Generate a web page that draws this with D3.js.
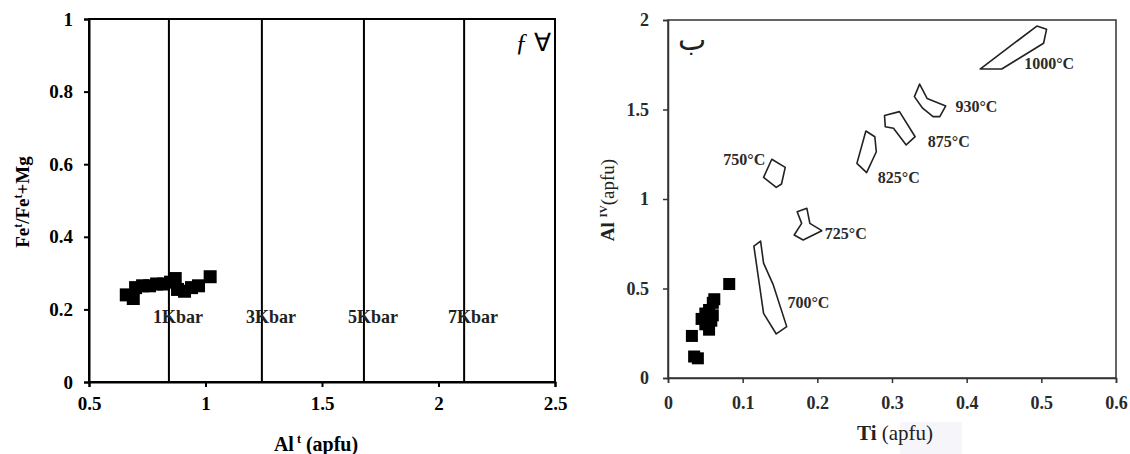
<!DOCTYPE html>
<html><head><meta charset="utf-8">
<script src="https://cdn.jsdelivr.net/npm/d3@7"></script>
<style>body{margin:0;background:#fff}svg{display:block}</style>
</head><body>
<svg id="c" width="1130" height="454"></svg>
<script>
// ---- Left chart data ----
const leftXTicks = [0.5, 1, 1.5, 2, 2.5];
const leftYTicks = [0, 0.2, 0.4, 0.6, 0.8, 1];
const pressureX = [0.843, 1.242, 1.68, 2.11];
const pressureLabels = ["1Kbar", "3Kbar", "5Kbar", "7Kbar"];
const leftAlt = [0.66, 0.69, 0.70, 0.73, 0.76, 0.79, 0.82, 0.85, 0.87, 0.88, 0.91, 0.94, 0.97, 1.02];
const leftFe  = [0.24, 0.23, 0.26, 0.265, 0.265, 0.27, 0.27, 0.275, 0.285, 0.255, 0.25, 0.26, 0.265, 0.29];

// ---- Right chart data ----
const rightXTicks = [0, 0.1, 0.2, 0.3, 0.4, 0.5, 0.6];
const rightYTicks = [0, 0.5, 1, 1.5, 2];
const rightTi  = [0.032, 0.035, 0.040, 0.045, 0.050, 0.050, 0.055, 0.055, 0.058, 0.060, 0.060, 0.062, 0.082];
const rightAl4 = [0.235, 0.12, 0.11, 0.33, 0.36, 0.30, 0.27, 0.38, 0.32, 0.35, 0.42, 0.44, 0.525];
const tempLabels = ["700°C", "725°C", "750°C", "825°C", "875°C", "930°C", "1000°C"];
const tempLabelPos = [[0.16, 0.42], [0.21, 0.81], [0.074, 1.22], [0.281, 1.12], [0.348, 1.32], [0.385, 1.52], [0.477, 1.755]];
const poly700  = [[0.115,0.737],[0.124,0.765],[0.128,0.642],[0.141,0.52],[0.159,0.287],[0.145,0.246],[0.128,0.361]];
const poly725  = [[0.173,0.929],[0.186,0.948],[0.190,0.864],[0.206,0.823],[0.181,0.771],[0.169,0.799],[0.179,0.864]];
const poly750  = [[0.139,1.222],[0.157,1.177],[0.152,1.084],[0.145,1.065],[0.128,1.121]];
const poly825  = [[0.265,1.380],[0.277,1.348],[0.279,1.264],[0.266,1.147],[0.253,1.199]];
const poly875  = [[0.290,1.466],[0.310,1.488],[0.331,1.348],[0.319,1.302],[0.302,1.395],[0.291,1.404]];
const poly930  = [[0.337,1.642],[0.347,1.562],[0.372,1.520],[0.364,1.460],[0.355,1.460],[0.341,1.507],[0.330,1.572]];
const poly1000 = [[0.418,1.726],[0.494,1.966],[0.507,1.948],[0.503,1.870],[0.447,1.726]];
const polygons = [poly700, poly725, poly750, poly825, poly875, poly930, poly1000];

const svg = d3.select("#c");
const serif = "'Liberation Serif','Times New Roman',serif";

// ================= LEFT CHART =================
(function(){
  const L = 89, R = 555, T = 19, B = 382;
  const x = d3.scaleLinear().domain([0.5, 2.5]).range([L, R]);
  const y = d3.scaleLinear().domain([0, 1]).range([B, T]);
  const g = svg.append("g");

  g.selectAll("line.p").data(pressureX).join("line")
    .attr("x1", d => x(d)).attr("x2", d => x(d)).attr("y1", y(0)).attr("y2", y(1))
    .attr("stroke", "#000").attr("stroke-width", 2);

  g.append("rect").attr("x", L).attr("y", T).attr("width", R - L).attr("height", B - T)
    .attr("fill", "none").attr("stroke", "#000").attr("stroke-width", 2);

  const xa = g.append("g").attr("transform", `translate(0,${B})`)
    .call(d3.axisBottom(x).tickValues(leftXTicks).tickSize(5).tickPadding(5).tickFormat(d3.format("")));
  const ya = g.append("g").attr("transform", `translate(${L},0)`)
    .call(d3.axisLeft(y).tickValues(leftYTicks).tickSize(5).tickPadding(11).tickFormat(d3.format("")));
  [xa, ya].forEach(a => {
    a.select(".domain").attr("stroke", "#000").attr("stroke-width", 2);
    a.selectAll(".tick line").attr("stroke", "#000").attr("stroke-width", 2);
    a.selectAll(".tick text").attr("font-family", serif).attr("font-size", 19)
      .attr("font-weight", "bold").attr("fill", "#000");
  });
  xa.selectAll(".tick text").attr("dy", "0.95em");

  g.selectAll("text.pl").data(pressureLabels).join("text")
    .attr("x", (d, i) => x(pressureX[i]) + 9).attr("y", y(0.18))
    .attr("dy", "0.35em").attr("text-anchor", "middle")
    .attr("font-family", serif).attr("font-size", 18).attr("font-weight", "bold")
    .attr("fill", "#222").text(d => d);

  const s = 13;
  g.selectAll("rect.pt").data(leftAlt).join("rect")
    .attr("x", (d, i) => x(d) - s / 2).attr("y", (d, i) => y(leftFe[i]) - s / 2)
    .attr("width", s).attr("height", s).attr("fill", "#000");

  const cl = g.append("text").attr("x", 551).attr("y", 51).attr("text-anchor", "end")
    .attr("font-family", serif).attr("font-size", 25).attr("fill", "#000");
  cl.append("tspan").attr("font-style", "italic").text("ƒ ");
  cl.append("tspan").text("∀");

  const xt = g.append("text").attr("x", 316).attr("y", 451).attr("text-anchor", "middle")
    .attr("font-family", serif).attr("font-size", 20).attr("font-weight", "bold").attr("fill", "#000");
  xt.append("tspan").text("Al");
  xt.append("tspan").attr("font-size", 12).attr("dy", -8).text(" t");
  xt.append("tspan").attr("dy", 8).text(" (apfu)");

  const yt = g.append("text").attr("transform", "translate(29,202) rotate(-90)").attr("text-anchor", "middle")
    .attr("font-family", serif).attr("font-size", 19).attr("font-weight", "bold").attr("fill", "#000");
  yt.append("tspan").text("Fe");
  yt.append("tspan").attr("font-size", 12).attr("dy", -7).text("t");
  yt.append("tspan").attr("dy", 7).text("/Fe");
  yt.append("tspan").attr("font-size", 12).attr("dy", -7).text("t");
  yt.append("tspan").attr("dy", 7).text("+Mg");
})();

// ================= RIGHT CHART =================
(function(){
  const L = 668, R = 1116, T = 20, B = 378;
  const x = d3.scaleLinear().domain([0, 0.6]).range([L, R]);
  const y = d3.scaleLinear().domain([0, 2]).range([B, T]);
  const g = svg.append("g");
  const ink = "#333";

  g.append("rect").attr("x", 900).attr("y", 422).attr("width", 62).attr("height", 32).attr("fill", "#f6f6fa");

  g.append("rect").attr("x", L).attr("y", T).attr("width", R - L).attr("height", B - T)
    .attr("fill", "none").attr("stroke", ink).attr("stroke-width", 1.5);

  const xa = g.append("g").attr("transform", `translate(0,${B})`)
    .call(d3.axisBottom(x).tickValues(rightXTicks).tickSize(5).tickPadding(8).tickFormat(d3.format("")));
  const ya = g.append("g").attr("transform", `translate(${L},0)`)
    .call(d3.axisLeft(y).tickValues(rightYTicks).tickSize(5).tickPadding(14).tickFormat(d3.format("")));
  [xa, ya].forEach(a => {
    a.select(".domain").attr("stroke", ink).attr("stroke-width", 1.5);
    a.selectAll(".tick line").attr("stroke", ink).attr("stroke-width", 1.5);
    a.selectAll(".tick text").attr("font-family", serif).attr("font-size", 18)
      .attr("font-weight", "bold").attr("fill", "#2a2a2a");
  });
  xa.selectAll(".tick text").attr("dy", "1em");

  const line = d3.line().x(d => x(d[0])).y(d => y(d[1])).curve(d3.curveLinearClosed);
  g.selectAll("path.poly").data(polygons).join("path")
    .attr("d", line).attr("fill", "none").attr("stroke", "#222").attr("stroke-width", 1.6)
    .attr("stroke-linejoin", "round");

  g.selectAll("text.tl").data(tempLabels).join("text")
    .attr("x", (d, i) => x(tempLabelPos[i][0])).attr("y", (d, i) => y(tempLabelPos[i][1]))
    .attr("dy", "0.35em")
    .attr("font-family", serif).attr("font-size", 16).attr("font-weight", "bold")
    .attr("fill", "#2a2a2a").text(d => d);

  const s = 12;
  g.selectAll("rect.pt").data(rightTi).join("rect")
    .attr("x", d => x(d) - s / 2).attr("y", (d, i) => y(rightAl4[i]) - s / 2)
    .attr("width", s).attr("height", s).attr("fill", "#000");

  g.append("text").attr("x", 692).attr("y", 50).attr("text-anchor", "middle")
    .attr("font-family", "'DejaVu Sans',sans-serif").attr("font-size", 30).attr("fill", "#222").text("ب");

  const xt = g.append("text").attr("x", 857).attr("y", 440)
    .attr("font-family", serif).attr("font-size", 21).attr("fill", "#222");
  xt.append("tspan").attr("font-weight", "bold").text("Ti");
  xt.append("tspan").text(" (apfu)");

  const yt = g.append("text").attr("transform", "translate(614,200) rotate(-90)").attr("text-anchor", "middle")
    .attr("font-family", serif).attr("font-size", 19).attr("fill", "#222");
  yt.append("tspan").attr("font-weight", "bold").text("Al ");
  yt.append("tspan").attr("font-size", 11).attr("dy", -7).attr("font-weight", "bold").text("IV");
  yt.append("tspan").attr("dy", 7).text("(apfu)");
})();
</script>
</body></html>
